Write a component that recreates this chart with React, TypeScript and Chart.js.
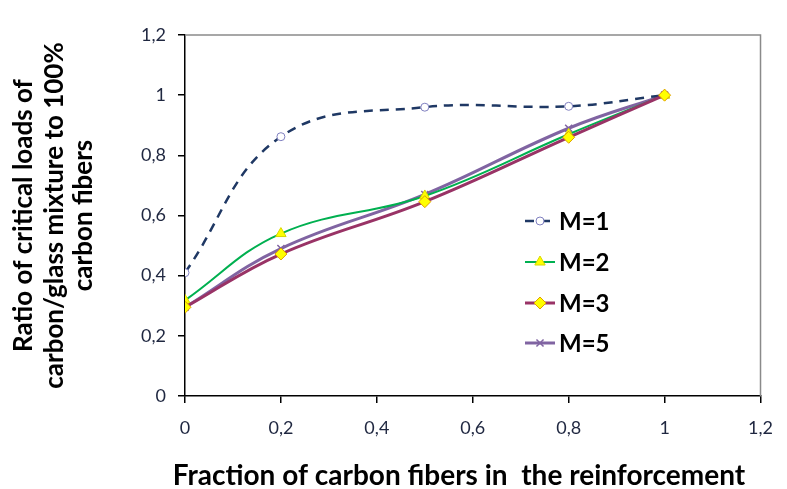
import React, { useEffect, useRef } from "react";
import { Chart, registerables } from "chart.js";
import { drawPoint } from "chart.js/helpers";

Chart.register(...registerables);

const xFractions = [0, 0.2, 0.5, 0.8, 1];
const m1 = [0.41, 0.862, 0.96, 0.963, 1.0];
const m2 = [0.318, 0.54, 0.665, 0.87, 1.0];
const m3 = [0.295, 0.472, 0.646, 0.86, 1.0];
const m5 = [0.295, 0.49, 0.67, 0.89, 1.0];
const seriesLabels = ["M=1", "M=2", "M=3", "M=5"];
const xTitle = "Fraction of carbon fibers in  the reinforcement";
const yTitleLines = ["Ratio of critical loads of", "carbon/glass mixture to 100%", "carbon fibers"];

const FONT = "Lato, 'Open Sans', sans-serif";
const TICK_COLOR = "#1f2740";

const fmt = (v: number) => String(Math.round(v * 10) / 10).replace(".", ",");

const toPts = (ys: number[]) => xFractions.map((x, i) => ({ x, y: ys[i] }));

export default function App() {
  const ref = useRef<HTMLCanvasElement | null>(null);
  useEffect(() => {
    const canvas = ref.current;
    if (!canvas) return;

    const framePlugin = {
      id: "frame",
      beforeDatasetsDraw(chart: any) {
        const { ctx, chartArea } = chart;
        ctx.save();
        ctx.strokeStyle = "#8a8a8a";
        ctx.lineWidth = 1.5;
        ctx.beginPath();
        ctx.moveTo(chartArea.left, chartArea.top);
        ctx.lineTo(chartArea.right, chartArea.top);
        ctx.lineTo(chartArea.right, chartArea.bottom);
        ctx.stroke();
        ctx.restore();
      },
    };

    const titlesPlugin = {
      id: "titles",
      afterDraw(chart: any) {
        const { ctx, chartArea } = chart;
        ctx.save();
        ctx.fillStyle = "#000";
        ctx.font = `bold 28px ${FONT}`;
        ctx.textAlign = "center";
        ctx.textBaseline = "alphabetic";
        ctx.fillText(xTitle, 459, 485);
        const cy = (chartArea.top + chartArea.bottom) / 2;
        const xs = [24, 55, 84];
        ctx.font = `bold 26px ${FONT}`;
        yTitleLines.forEach((line, i) => {
          ctx.save();
          ctx.translate(xs[i], cy);
          ctx.rotate(-Math.PI / 2);
          ctx.textBaseline = "middle";
          ctx.fillText(line, 0, 0);
          ctx.restore();
        });
        ctx.restore();
      },
    };

    const legendPlugin = {
      id: "customLegend",
      afterDraw(chart: any) {
        const { ctx } = chart;
        const ys = [221, 262, 303, 343];
        ctx.save();
        chart.data.datasets.forEach((ds: any, i: number) => {
          const y = ys[i];
          ctx.save();
          ctx.strokeStyle = ds.borderColor;
          ctx.lineWidth = ds.borderWidth;
          ctx.setLineDash(ds.borderDash || []);
          ctx.beginPath();
          ctx.moveTo(525, y);
          ctx.lineTo(555, y);
          ctx.stroke();
          ctx.restore();
          ctx.save();
          ctx.fillStyle = ds.pointBackgroundColor;
          ctx.strokeStyle = ds.pointBorderColor;
          ctx.lineWidth = ds.pointBorderWidth;
          drawPoint(ctx, { pointStyle: ds.pointStyle, radius: ds.pointRadius, rotation: 0, borderWidth: ds.pointBorderWidth } as any, 540, y);
          ctx.restore();
          ctx.fillStyle = "#000";
          ctx.font = `bold 24px ${FONT}`;
          ctx.textAlign = "left";
          ctx.textBaseline = "middle";
          ctx.fillText(ds.label, 559, y + 1);
        });
        ctx.restore();
      },
    };

    const chart = new Chart(canvas, {
      type: "line",
      data: {
        datasets: [
          {
            label: seriesLabels[0],
            data: toPts(m1),
            borderColor: "#1f3864",
            borderWidth: 2.5,
            borderDash: [9, 7],
            pointStyle: "circle",
            pointRadius: 4,
            pointBackgroundColor: "#ffffff",
            pointBorderColor: "#8080c0",
            pointBorderWidth: 1,
            tension: 0.4,
            order: 1,
          },
          {
            label: seriesLabels[1],
            data: toPts(m2),
            borderColor: "#00b050",
            borderWidth: 2,
            pointStyle: "triangle",
            pointRadius: 6,
            pointBackgroundColor: "#ffff00",
            pointBorderColor: "#d8d800",
            pointBorderWidth: 1,
            tension: 0.4,
            order: 2,
          },
          {
            label: seriesLabels[2],
            data: toPts(m3),
            borderColor: "#993366",
            borderWidth: 3,
            pointStyle: "rectRot",
            pointRadius: 6,
            pointBackgroundColor: "#ffff00",
            pointBorderColor: "#e0a000",
            pointBorderWidth: 1,
            tension: 0.4,
            order: 0,
          },
          {
            label: seriesLabels[3],
            data: toPts(m5),
            borderColor: "#8064a2",
            borderWidth: 3,
            pointStyle: "crossRot",
            pointRadius: 5,
            pointBackgroundColor: "#8064a2",
            pointBorderColor: "#8064a2",
            pointBorderWidth: 1.5,
            tension: 0.4,
            order: 3,
          },
        ],
      },
      options: {
        animation: false,
        responsive: false,
        layout: { padding: { top: 35, right: 19, bottom: 0, left: 0 } },
        plugins: { legend: { display: false }, tooltip: { enabled: false } },
        scales: {
          x: {
            type: "linear",
            min: 0,
            max: 1.2,
            afterFit: (s: any) => {
              s.height = 93;
            },
            ticks: {
              stepSize: 0.2,
              callback: (v: any) => fmt(Number(v)),
              color: TICK_COLOR,
              font: { family: FONT, size: 18 },
              padding: 14,
              maxRotation: 0,
            },
            grid: { drawOnChartArea: false, color: "#000", tickLength: 7, lineWidth: 1.5 },
            border: { color: "#000", width: 1.5 },
          },
          y: {
            min: 0,
            max: 1.2,
            afterFit: (s: any) => {
              s.width = 185;
            },
            ticks: {
              stepSize: 0.2,
              callback: (v: any) => fmt(Number(v)),
              color: TICK_COLOR,
              font: { family: FONT, size: 18 },
              padding: 12,
            },
            grid: { drawOnChartArea: false, color: "#000", tickLength: 7, lineWidth: 1.5 },
            border: { color: "#000", width: 1.5 },
          },
        },
      } as any,
      plugins: [framePlugin, titlesPlugin, legendPlugin],
    });
    return () => chart.destroy();
  }, []);

  return (
    <div style={{ position: "absolute", left: 0, top: 0, width: 787, height: 489, background: "#fff" }}>
      <canvas ref={ref} width={787} height={489} />
    </div>
  );
}
